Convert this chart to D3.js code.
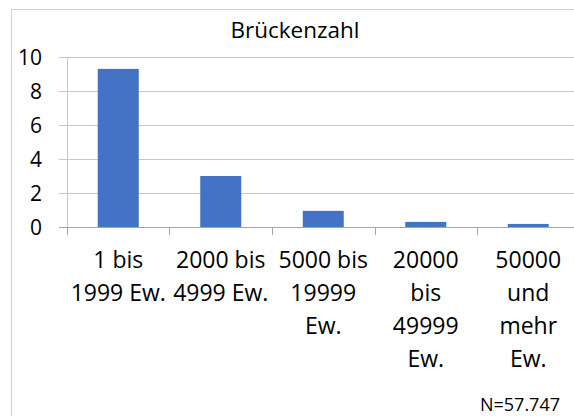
<!DOCTYPE html>
<html>
<head>
<meta charset="utf-8">
<script src="https://cdn.jsdelivr.net/npm/d3@7"></script>
<style>
  body { margin: 0; background: #fff; }
  svg text { font-family: "Open Sans", sans-serif; fill: #000; }
</style>
</head>
<body>
<svg id="chart" width="574" height="416"></svg>
<script>
// Daten (Zeilenumbrüche wie im Original)
const categories = ["1 bis\n1999 Ew.", "2000 bis\n4999 Ew.", "5000 bis\n19999\nEw.", "20000\nbis\n49999\nEw.", "50000\nund\nmehr\nEw."];
const values = [9.3, 3.0, 0.95, 0.3, 0.18];
const yTicks = [0, 2, 4, 6, 8, 10];
const title = "Brückenzahl";
const note = "N=57.747";

const svg = d3.select("#chart");

// Rahmen (rechts/unten abgeschnitten wie im Original)
svg.append("rect")
  .attr("x", 11.5).attr("y", 9.5)
  .attr("width", 700).attr("height", 500)
  .attr("fill", "#fff")
  .attr("stroke", "#d0d0d0");

const x = d3.scaleBand().domain(categories).range([67, 579.5]).paddingInner(0.6).paddingOuter(0.3);
const y = d3.scaleLinear().domain([0, 10]).range([227, 57]);

// Gitterlinien
svg.append("g")
  .selectAll("line")
  .data(yTicks)
  .join("line")
  .attr("x1", 59).attr("x2", 580)
  .attr("y1", d => Math.round(y(d)) + 0.5)
  .attr("y2", d => Math.round(y(d)) + 0.5)
  .attr("stroke", d => d === 0 ? "#a6a6a6" : "#c8c8c8")
  .attr("stroke-width", 1);

// y-Achse
svg.append("line")
  .attr("x1", 67.5).attr("x2", 67.5)
  .attr("y1", 57).attr("y2", 227)
  .attr("stroke", "#c8c8c8");

svg.append("g")
  .selectAll("text")
  .data(yTicks)
  .join("text")
  .attr("x", 42)
  .attr("y", d => y(d))
  .attr("dy", "0.36em")
  .attr("text-anchor", "end")
  .style("font-size", "21px")
  .text(d => d);

// x-Achse Teilstriche
const tickPos = categories.map(c => x(c) - x.step() * x.paddingInner() / 2);
svg.append("g")
  .selectAll("line")
  .data(tickPos)
  .join("line")
  .attr("x1", d => Math.round(d) + 0.5).attr("x2", d => Math.round(d) + 0.5)
  .attr("y1", 227).attr("y2", 235)
  .attr("stroke", "#a6a6a6");

// Balken
svg.append("g")
  .selectAll("rect")
  .data(values)
  .join("rect")
  .attr("x", (d, i) => x(categories[i]))
  .attr("y", d => y(d))
  .attr("width", x.bandwidth())
  .attr("height", d => y(0) - y(d))
  .attr("fill", "#4472c4");

// Kategorienbeschriftung
const labG = svg.append("g");
categories.forEach(c => {
  const cx = x(c) + x.bandwidth() / 2;
  const t = labG.append("text")
    .attr("text-anchor", "middle")
    .style("font-size", "23px");
  c.split("\n").forEach((l, i) => {
    t.append("tspan").attr("x", cx).attr("y", 268 + i * 33).text(l);
  });
});

// Titel
svg.append("text")
  .attr("x", 295).attr("y", 38)
  .attr("text-anchor", "middle")
  .style("font-size", "22.5px")
  .text(title);

// Fußnote
svg.append("text")
  .attr("x", 560).attr("y", 411)
  .attr("text-anchor", "end")
  .style("font-size", "18px")
  .text(note);
</script>
</body>
</html>
